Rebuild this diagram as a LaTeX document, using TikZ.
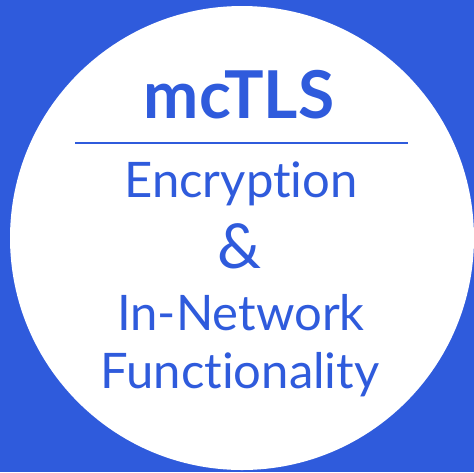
\documentclass[tikz,border=0pt]{standalone}
\usepackage{fontspec}
\setmainfont{Lato}[RawFeature={-liga}]
\definecolor{badgeblue}{HTML}{2F5BDC}
\begin{document}
\begin{tikzpicture}[x=1pt,y=-1pt,
  label/.style={text=badgeblue,inner sep=0pt,anchor=base},
  body/.style={label,font=\fontsize{49}{49}\selectfont},
  rule/.style={draw=badgeblue,line width=2pt}]
% background and disc
\fill[badgeblue] (0,0) rectangle (474,472);
\useasboundingbox (0,0) rectangle (474,472);
\fill[white] (242,238) circle (232);
% title and rule
\node[label,font=\fontsize{66}{66}\selectfont\bfseries] (title) at (239,118) {mcTLS};
\coordinate (ruleL) at (75,143);
\coordinate (ruleR) at (408,143);
\draw[rule] (ruleL) -- (ruleR);
% subtitle lines
\node[body] (enc) at (241,197) {Encryption};
\node[label,font=\fontsize{62}{62}\selectfont] (amp) at (240,268) {\&};
\node[body] (innet) at (241,330) {In-Network};
\node[body] (func) at (240,388) {Functionality};
\end{tikzpicture}
\end{document}
